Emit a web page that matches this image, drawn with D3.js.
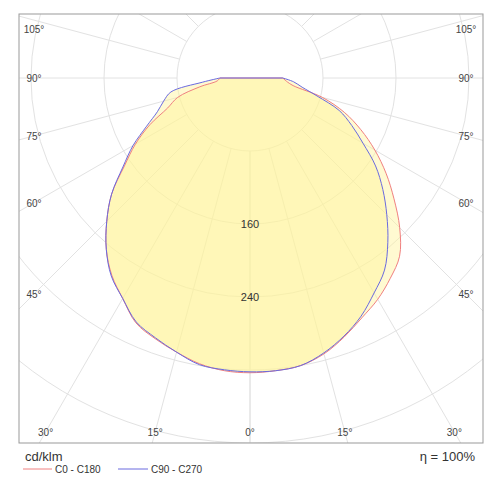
<!DOCTYPE html>
<html><head><meta charset="utf-8">
<script src="https://cdn.jsdelivr.net/npm/d3@7"></script>
<style>body{margin:0;background:#fff}text{font-family:Arial,"Liberation Sans",sans-serif}</style>
</head><body><svg id="c" width="500" height="500"></svg>
<script>
const angles = [0,5,10,15,20,25,30,35,40,45,50,55,60,65,70,75,80,85,90];
const c0   = [323,322,320,313,302,290,280,268,255,232,206,182,158,134,110,82,48,40,36];
const c180 = [323,322,318,311,304,296,279,264,245,222,198,168,145,121,96,82,56,36,33];
const c90  = [322,322,320,312,301,288,272,257,235,212,190,168,143,123,104,76,58,48,36];
const c270 = [322,321,319,311,303,295,279,265,245,222,198,170,148,125,108,98,88,52,33];
const ringValues = [80,160,240,320,400,480,560];
const ringLabels = [160,240];
const rayAngles = [0,15,30,45,60,75,90,105,120,135,150,165];
const labelAngles = [0,15,30,45,60,75,90,105];

const svg = d3.select("#c");
const L=19,R=483,T=14,B=443, cx=250, cy=78;
const r = d3.scaleLinear().domain([0,80]).range([0,73]);
svg.append("clipPath").attr("id","clip").append("rect").attr("x",L).attr("y",T).attr("width",R-L).attr("height",B-T);
const g = svg.append("g").attr("clip-path","url(#clip)");
const pt=(gam,v,side)=>{const a=gam*Math.PI/180;return [cx+side*r(v)*Math.sin(a), cy+r(v)*Math.cos(a)];};
ringValues.forEach(v=>g.append("circle").attr("cx",cx).attr("cy",cy).attr("r",r(v)).attr("fill","none").attr("stroke","#e2e2e2"));
rayAngles.forEach(a=>[1,-1].forEach(s=>{const p0=pt(a,80,s),p=pt(a,800,s);g.append("line").attr("x1",p0[0]).attr("y1",p0[1]).attr("x2",p[0]).attr("y2",p[1]).attr("stroke","#e2e2e2");}));
const smooth=d3.line().curve(d3.curveCatmullRom.alpha(0.5));
function curvePath(right,left){
  const pts=[];
  angles.slice().reverse().forEach((a,i)=>pts.push(pt(a,left[angles.length-1-i],-1)));
  angles.slice(1).forEach((a,i)=>pts.push(pt(a,right[i+1],1)));
  return "M"+cx+","+cy+"L"+smooth(pts).slice(1)+"L"+cx+","+cy+"Z";
}
const A=curvePath(c0,c180), Bc=curvePath(c90,c270);
[A,Bc].forEach(d=>g.append("path").attr("d",d).attr("fill","#fff59a").attr("fill-opacity",0.45));
g.append("path").attr("d",A).attr("fill","none").attr("stroke","#f08080").attr("stroke-width",1);
g.append("path").attr("d",Bc).attr("fill","none").attr("stroke","#6a6adf").attr("stroke-width",1);
ringLabels.forEach(v=>svg.append("text").attr("x",cx).attr("y",cy+r(v)+4).attr("text-anchor","middle").attr("font-size",11).attr("fill","#333").text(v));
svg.append("rect").attr("x",L).attr("y",T).attr("width",R-L).attr("height",B-T).attr("fill","none").attr("stroke","#999");
const iL=34,iR=466,iT=29,iB=432;
labelAngles.forEach(a=>[1,-1].forEach(s=>{
  if(a===0&&s===-1)return;
  const rad=a*Math.PI/180, dx=Math.sin(rad), dy=Math.cos(rad);
  let t=1e9;
  if(dy>1e-6)t=Math.min(t,(iB-cy)/dy);
  if(dx>1e-6)t=Math.min(t,(iR-cx)/dx);
  let x=cx+s*dx*t, y=cy+dy*t;
  x=Math.max(iL,Math.min(iR,x)); y=Math.max(iT,Math.min(iB,y));
  svg.append("text").attr("x",x).attr("y",y+4).attr("text-anchor","middle").attr("font-size",10).attr("fill","#444").text(a+"°");
}));
svg.append("text").attr("x",25).attr("y",461).attr("font-size",13).attr("fill","#333").text("cd/klm");
svg.append("text").attr("x",475).attr("y",461).attr("text-anchor","end").attr("font-size",13).attr("fill","#333").text("η = 100%");
svg.append("line").attr("x1",23).attr("x2",52).attr("y1",469).attr("y2",469).attr("stroke","#f08080");
svg.append("text").attr("x",55).attr("y",473).attr("font-size",10).attr("fill","#333").text("C0 - C180");
svg.append("line").attr("x1",118).attr("x2",148).attr("y1",469).attr("y2",469).attr("stroke","#6a6adf");
svg.append("text").attr("x",151).attr("y",473).attr("font-size",10).attr("fill","#333").text("C90 - C270");
</script></body></html>
